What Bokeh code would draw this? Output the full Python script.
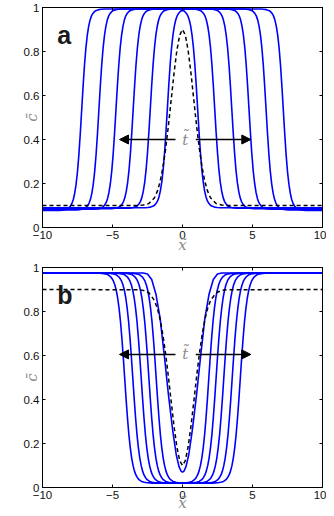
from bokeh.plotting import figure
from bokeh.models import Range1d, FixedTicker, LinearAxis, Arrow, NormalHead, Label
from bokeh.layouts import column
from bokeh.embed import file_html
from bokeh.resources import INLINE

# ---------------- data ----------------
x_ticks = [-10, -5, 0, 5, 10]
x_tick_labels = ["\u221210", "\u22125", "0", "5", "10"]
y_ticks = [0, 0.2, 0.4, 0.6, 0.8, 1]
y_tick_labels = ["0", "0.2", "0.4", "0.6", "0.8", "1"]

# shape of one interface (offset from the mid point, fraction of the jump)
a_edge_dx = [-1.6, -1.4, -1.2, -1.0, -0.9, -0.8, -0.7, -0.6, -0.5, -0.4, -0.3, -0.2, -0.1, 0.0,
             0.1, 0.2, 0.3, 0.4, 0.5, 0.6, 0.7, 0.8, 0.9, 1.0, 1.2, 1.4, 1.6]
a_edge_frac = [0.0, 0.001, 0.003, 0.008, 0.014, 0.022, 0.034, 0.054, 0.085, 0.130, 0.193, 0.278, 0.383, 0.5,
               0.617, 0.722, 0.807, 0.870, 0.915, 0.946, 0.966, 0.978, 0.986, 0.992, 0.997, 0.999, 1.0]
b_edge_dx = [-2.0, -1.8, -1.6, -1.4, -1.2, -1.0, -0.9, -0.8, -0.7, -0.6, -0.5, -0.4, -0.3, -0.2, -0.1, 0.0,
             0.1, 0.2, 0.3, 0.4, 0.5, 0.6, 0.7, 0.8, 0.9, 1.0, 1.2, 1.4, 1.6, 1.8, 2.0]
b_edge_frac = [0.0, 0.001, 0.002, 0.004, 0.008, 0.018, 0.027, 0.039, 0.057, 0.083, 0.119, 0.168, 0.231, 0.310, 0.401, 0.5,
               0.599, 0.690, 0.769, 0.832, 0.881, 0.917, 0.943, 0.961, 0.973, 0.982, 0.992, 0.996, 0.998, 0.999, 1.0]

# panel a: plateaus (half widths at mid level, outer level, plateau level)
a_half_widths = [1.08, 2.3, 3.52, 4.75, 5.97, 7.2]
a_outer_levels = [0.09, 0.088, 0.086, 0.083, 0.08, 0.078]
a_plateau = 0.993

# panel b: dips
b_half_widths = [1.88, 2.4, 2.95, 3.55, 4.13]
b_outer_level = 0.975
b_inner_level = 0.02
# innermost (earliest) dip of panel b
b_first_x = [-10.0, -2.8, -2.5, -2.2, -1.9, -1.6, -1.3, -1.0, -0.7, -0.45, -0.25, -0.1, 0.0,
             0.1, 0.25, 0.45, 0.7, 1.0, 1.3, 1.6, 1.9, 2.2, 2.5, 2.8, 10.0]
b_first_c = [0.975, 0.975, 0.97, 0.945, 0.88, 0.77, 0.6, 0.42, 0.26, 0.15, 0.095, 0.074, 0.07,
             0.074, 0.095, 0.15, 0.26, 0.42, 0.6, 0.77, 0.88, 0.945, 0.97, 0.975, 0.975]

# initial conditions (dashed)
a_init_x = [-10.0, -3.2, -2.8, -2.4, -2.0, -1.8, -1.6, -1.4, -1.2, -1.0, -0.8, -0.6, -0.4, -0.2, 0.0,
            0.2, 0.4, 0.6, 0.8, 1.0, 1.2, 1.4, 1.6, 1.8, 2.0, 2.4, 2.8, 3.2, 10.0]
a_init_c = [0.1, 0.1, 0.102, 0.109, 0.135, 0.164, 0.208, 0.273, 0.36, 0.466, 0.585, 0.704, 0.806, 0.875, 0.9,
            0.875, 0.806, 0.704, 0.585, 0.466, 0.36, 0.273, 0.208, 0.164, 0.135, 0.109, 0.102, 0.1, 0.1]
b_init_x = [-10.0, -3.2, -2.8, -2.4, -2.0, -1.8, -1.6, -1.4, -1.2, -1.0, -0.8, -0.6, -0.4, -0.2, 0.0,
            0.2, 0.4, 0.6, 0.8, 1.0, 1.2, 1.4, 1.6, 1.8, 2.0, 2.4, 2.8, 3.2, 10.0]
b_init_c = [0.9, 0.899, 0.896, 0.885, 0.85, 0.815, 0.764, 0.694, 0.605, 0.5, 0.386, 0.276, 0.184, 0.122, 0.1,
            0.122, 0.184, 0.276, 0.386, 0.5, 0.605, 0.694, 0.764, 0.815, 0.85, 0.885, 0.896, 0.899, 0.9]

# arrows and labels
a_arrow_y = 0.4
b_arrow_y = 0.605
arrow_left = [-0.5, -4.5]
arrow_right = [0.95, 4.88]
t_label_x = 0.2
letter_pos = [-8.95, 0.875]

BLUE = "#0000ff"
GRAY = "#8a8a8a"
TICK_FONT = "Liberation Sans"


def edge_curve(L, outside, inside, dx, frac):
    xs, ys = [-10.0], [outside]
    for d, f in zip(dx, frac):
        if d < L:
            xs.append(-L + d)
            ys.append(outside + (inside - outside) * f)
    for d, f in reversed(list(zip(dx, frac))):
        if d < L:
            xs.append(L - d)
            ys.append(outside + (inside - outside) * f)
    xs.append(10.0)
    ys.append(outside)
    return xs, ys


def make_panel(height, top, bottom, letter, arrow_y, xlab_standoff):
    p = figure(width=326, height=height, x_range=Range1d(-10, 10), y_range=Range1d(0, 1),
               output_backend="svg", toolbar_location=None,
               min_border_left=42, min_border_right=4, min_border_top=top, min_border_bottom=bottom)
    p.xgrid.visible = False
    p.ygrid.visible = False
    p.outline_line_color = "black"
    p.outline_line_width = 1
    p.background_fill_color = "white"
    p.border_fill_color = "white"

    for ax in p.xaxis:
        ax.ticker = FixedTicker(ticks=x_ticks)
        ax.major_label_overrides = dict(zip(x_ticks, x_tick_labels))
        ax.major_label_standoff = 3
        ax.axis_label = "x\u0303"
        ax.axis_label_standoff = xlab_standoff
    for ax in p.yaxis:
        ax.ticker = FixedTicker(ticks=y_ticks)
        ax.major_label_overrides = dict(zip(y_ticks, y_tick_labels))
        ax.axis_label = "c\u0304"
        ax.axis_label_standoff = -20
        ax.major_label_standoff = 3
    for ax in p.xaxis + p.yaxis:
        ax.major_tick_in = 3
        ax.major_tick_out = 0
        ax.minor_tick_line_color = None
        ax.axis_line_color = "black"
        ax.major_tick_line_color = "black"
        ax.major_label_text_font = TICK_FONT
        ax.major_label_text_font_size = "11.5px"
        ax.major_label_text_color = "#111111"
        ax.axis_label_text_font = "DejaVu Serif"
        ax.axis_label_text_font_style = "italic"
        ax.axis_label_text_font_size = "15px"
        ax.axis_label_text_color = GRAY

    for side in ("above", "right"):
        ticks = x_ticks if side == "above" else y_ticks
        mirror = LinearAxis(ticker=FixedTicker(ticks=ticks), major_label_text_font_size="0px",
                            major_label_text_color=None, major_label_text_alpha=0,
                            major_label_standoff=0, major_tick_in=3, major_tick_out=0,
                            minor_tick_line_color=None, axis_line_color="black")
        p.add_layout(mirror, side)

    p.add_layout(Label(x=letter_pos[0], y=letter_pos[1], text=letter, text_font="Liberation Sans",
                       text_font_style="bold", text_font_size="25px", text_color="#1a1a1a",
                       text_baseline="alphabetic", text_align="left"))

    head = dict(size=9, fill_color="black", line_color="black", line_width=1)
    p.add_layout(Arrow(end=NormalHead(**head), x_start=arrow_left[0], y_start=arrow_y,
                       x_end=arrow_left[1], y_end=arrow_y, line_width=1.5, line_color="black"))
    p.add_layout(Arrow(end=NormalHead(**head), x_start=arrow_right[0], y_start=arrow_y,
                       x_end=arrow_right[1], y_end=arrow_y, line_width=1.5, line_color="black"))
    p.add_layout(Label(x=t_label_x, y=arrow_y, text="t\u0303", text_font="DejaVu Serif",
                       text_font_style="italic", text_font_size="15px", text_color=GRAY,
                       text_align="center", text_baseline="middle"))
    return p


pa = make_panel(256, 7, 29, "a", a_arrow_y, -6)
for L, lev in zip(a_half_widths, a_outer_levels):
    xs, ys = edge_curve(L, lev, a_plateau, a_edge_dx, a_edge_frac)
    pa.line(xs, ys, line_color=BLUE, line_width=1.6)
pa.line(a_init_x, a_init_c, line_color="black", line_width=1.5, line_dash="4 3")

pb = make_panel(259, 11, 28, "b", b_arrow_y, -8)
pb.line(b_first_x, b_first_c, line_color=BLUE, line_width=1.6)
for L in b_half_widths:
    xs, ys = edge_curve(L, b_outer_level, b_inner_level, b_edge_dx, b_edge_frac)
    pb.line(xs, ys, line_color=BLUE, line_width=1.6)
pb.line(b_init_x, b_init_c, line_color="black", line_width=1.5, line_dash="4 3")

layout = column(pa, pb, spacing=0)
open("out.html", "w").write(file_html(layout, INLINE))
